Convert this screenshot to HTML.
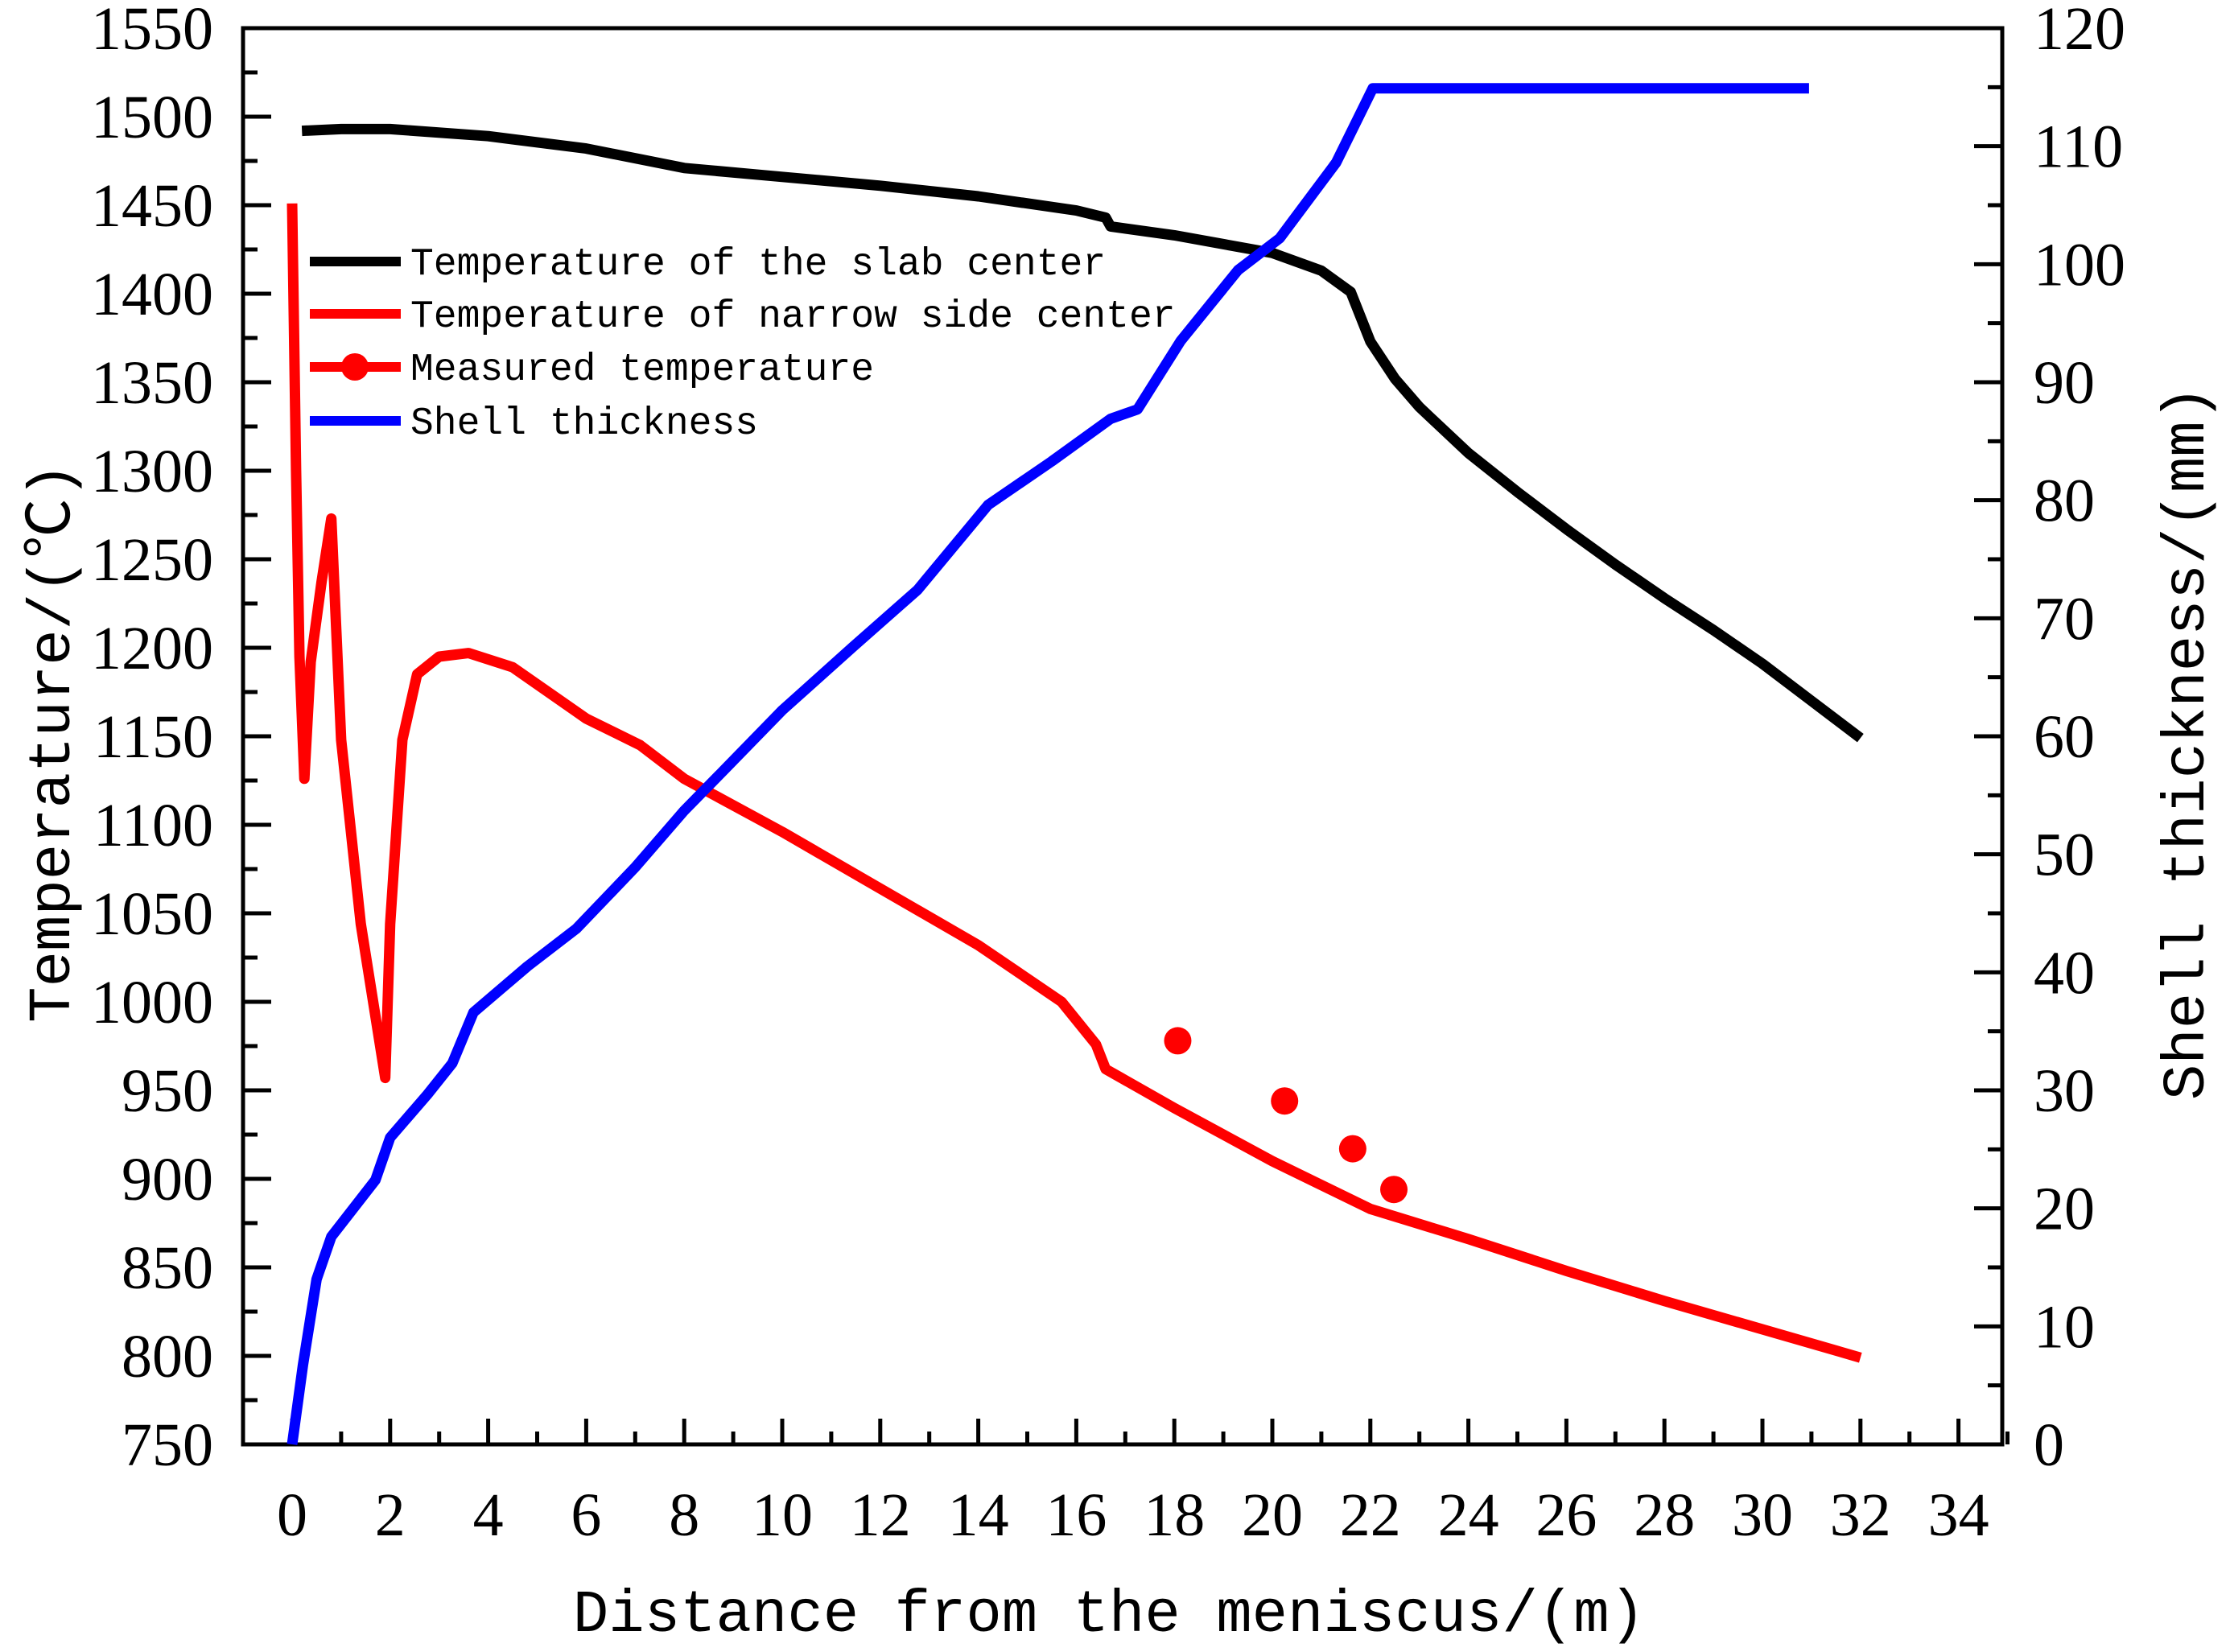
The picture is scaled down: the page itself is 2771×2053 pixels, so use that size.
<!DOCTYPE html>
<html><head><meta charset="utf-8"><style>
html,body{margin:0;padding:0;background:#fff;}
svg{display:block;}
text{fill:#000;}
</style></head><body>
<svg id="chart" width="2771" height="2053" viewBox="0 0 2771 2053" xmlns="http://www.w3.org/2000/svg">
<g id="plot"></g>
</svg>
<script>
// ---- data ----
const slabX = [0.2,1,2,4,6,8,10,12,14,16,16.6,16.7,18,20,21,21.6,22,22.5,23,24,25,26,27,28,29,30,31,32];
const slabT = [1492,1493,1493,1489,1482,1471,1466,1461,1455,1447,1443,1438,1433,1423,1413,1401,1373,1352,1336,1310,1288,1267,1247,1228,1210,1191,1170,1149];
const narrowX = [0,0.08,0.15,0.25,0.38,0.6,0.8,1.0,1.4,1.9,2.0,2.25,2.55,3.0,3.6,4.5,6,7.1,8,10,12,14,15.7,16.4,16.6,18,20,22,24,26,28,30,32];
const narrowT = [1451,1300,1195,1126,1192,1237,1273,1148,1044,957,1044,1148,1185,1195,1197,1189,1160,1145,1126,1096,1064,1032,1000,976,962,940,910,883,866,848,831,815,799];
const measX = [18.07,20.25,21.64,22.48];
const measT = [978,944,917,894];
const shellX = [0,0.22,0.5,0.8,1.7,2,2.75,3.27,3.7,4.8,5.8,7,8,8.85,10,11.45,12.76,14.2,15.5,16.7,17.25,18.13,19.3,20.15,21.3,22.05,30.95];
const shellD = [0,6.7,14,17.6,22.4,26,29.6,32.3,36.6,40.5,43.7,48.9,53.7,57.3,62.2,67.6,72.4,79.6,83.3,86.9,87.7,93.5,99.5,102.2,108.6,114.9,114.9];
const xTicks = [0,2,4,6,8,10,12,14,16,18,20,22,24,26,28,30,32,34];
const yTicks = [750,800,850,900,950,1000,1050,1100,1150,1200,1250,1300,1350,1400,1450,1500,1550];
const y2Ticks = [0,10,20,30,40,50,60,70,80,90,100,110,120];

// ---- layout ----
const L=302,R=2488,T=35,B=1795;
const X0=363, PX=60.9;
const sx = v => X0 + v*PX;
const sy = v => B - (v-750)/800*(B-T);
const sy2 = v => B - v/120*(B-T);
const NS='http://www.w3.org/2000/svg';
const g=document.getElementById('plot');
function mk(tag, attrs, parent){const e=document.createElementNS(NS,tag);for(const k in attrs)e.setAttribute(k,attrs[k]);(parent||g).appendChild(e);return e;}

const frame=mk('rect',{x:L,y:T,width:R-L,height:B-T,fill:'none',stroke:'#000','stroke-width':5});



xTicks.forEach((v,i)=>{
  const t=mk('line',{x1:sx(v),x2:sx(v),y1:B,y2:B-32,stroke:'#000','stroke-width':5});
  
  
  const m=mk('line',{x1:sx(v+1),x2:sx(v+1),y1:B,y2:B-16,stroke:'#000','stroke-width':5});
  
  
  const lb=mk('text',{x:sx(v),y:B+113,'text-anchor':'middle','font-family':'Liberation Serif, serif','font-size':76});
  lb.textContent=v;
  
  
});
yTicks.forEach(v=>{
  const t=mk('line',{x1:L,x2:L+35,y1:sy(v),y2:sy(v),stroke:'#000','stroke-width':5});
  
  
  if(v<1550){const m=mk('line',{x1:L,x2:L+18,y1:sy(v+25),y2:sy(v+25),stroke:'#000','stroke-width':5});
  
  }
  const lb=mk('text',{x:265,y:sy(v)+26,'text-anchor':'end','font-family':'Liberation Serif, serif','font-size':76});
  lb.textContent=v;
  
  
});
y2Ticks.forEach(v=>{
  const t=mk('line',{x1:R,x2:R-35,y1:sy2(v),y2:sy2(v),stroke:'#000','stroke-width':5});
  
  
  if(v<120){const m=mk('line',{x1:R,x2:R-18,y1:sy2(v+5),y2:sy2(v+5),stroke:'#000','stroke-width':5});
  
  }
  const lb=mk('text',{x:2527,y:sy2(v)+26,'text-anchor':'start','font-family':'Liberation Serif, serif','font-size':76});
  lb.textContent=v;
  
  
});

const xt=mk('text',{x:1378,y:2027,'text-anchor':'middle','font-family':'Liberation Mono, monospace','font-size':74});
xt.textContent='Distance from the meniscus/(m)';


const yt=mk('text',{x:0,y:0,'text-anchor':'middle','font-family':'Liberation Mono, "Noto Sans CJK SC", monospace','font-size':74,transform:'translate(86,923) rotate(-90)'});
yt.textContent='Temperature/(℃)';


const y2t=mk('text',{x:0,y:0,'text-anchor':'middle','font-family':'Liberation Mono, monospace','font-size':74,transform:'translate(2738,923) rotate(-90)'});
y2t.textContent='Shell thickness/(mm)';



function path(xs,ys,fy,color,name){
  const d=xs.map((x,i)=>(i?'L':'M')+sx(x).toFixed(1)+','+fy(ys[i]).toFixed(1)).join(' ');
  const p=mk('path',{d:d,fill:'none',stroke:color,'stroke-width':13,'stroke-linejoin':'round'});
  
  
}
path(slabX,slabT,sy,'#000','slab-center-line');
path(narrowX,narrowT,sy,'#ff0000','narrow-side-line');
path(shellX,shellD,sy2,'#0000ff','shell-thickness-line');
measX.forEach((x,i)=>{
  const c=mk('circle',{cx:sx(x),cy:sy(measT[i]),r:17,fill:'#ff0000'});
  
  
});

const leg=[['#000','Temperature of the slab center',false],['#ff0000','Temperature of narrow side center',false],['#ff0000','Measured temperature',true],['#0000ff','Shell thickness',false]];
const legY=[325,390,456,523];
leg.forEach((e,i)=>{
  const l=mk('line',{x1:385,x2:498,y1:legY[i],y2:legY[i],stroke:e[0],'stroke-width':12});
  
  
  if(e[2]){const c=mk('circle',{cx:441,cy:legY[i],r:17,fill:e[0]});
  
  }
  const t=mk('text',{x:510,y:legY[i]+16,'font-family':'Liberation Mono, monospace','font-size':48});
  t.textContent=e[1];
  
  
});
</script>
</body></html>
